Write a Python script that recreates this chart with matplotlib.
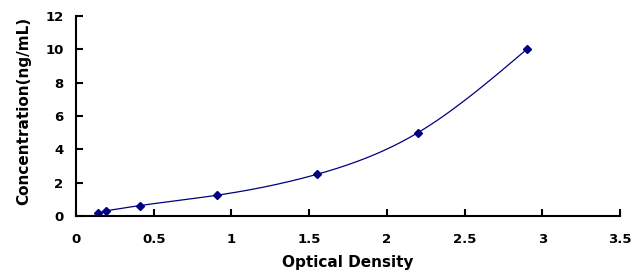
import numpy as np
import matplotlib
matplotlib.use("Agg")
import matplotlib.pyplot as plt

od = [0.14, 0.193, 0.41, 0.91, 1.55, 2.20, 2.90]
conc = [0.156, 0.312, 0.625, 1.25, 2.5, 5.0, 10.0]
xticks = [0, 0.5, 1, 1.5, 2, 2.5, 3, 3.5]
xtick_labels = ["0", "0.5", "1", "1.5", "2", "2.5", "3", "3.5"]
yticks = [0, 2, 4, 6, 8, 10, 12]

def natural_spline(x, y, xs):
    x = np.asarray(x, float); y = np.asarray(y, float)
    n = len(x)
    h = np.diff(x)
    A = np.zeros((n, n)); b = np.zeros(n)
    A[0, 0] = 1; A[-1, -1] = 1
    for i in range(1, n - 1):
        A[i, i - 1] = h[i - 1]
        A[i, i] = 2 * (h[i - 1] + h[i])
        A[i, i + 1] = h[i]
        b[i] = 3 * ((y[i + 1] - y[i]) / h[i] - (y[i] - y[i - 1]) / h[i - 1])
    c = np.linalg.solve(A, b)
    out = np.empty_like(xs)
    for k, xv in enumerate(xs):
        i = min(max(np.searchsorted(x, xv) - 1, 0), n - 2)
        bi = (y[i + 1] - y[i]) / h[i] - h[i] * (2 * c[i] + c[i + 1]) / 3
        di = (c[i + 1] - c[i]) / (3 * h[i])
        t = xv - x[i]
        out[k] = y[i] + bi * t + c[i] * t ** 2 + di * t ** 3
    return out

plt.rcParams['font.family'] = ['DejaVu Sans']
fig = plt.figure(figsize=(6.37, 2.78), dpi=100)
ax = fig.add_axes([76/637, 1-216/278, (620-76)/637, 200/278])

xs = np.linspace(od[1], od[-1], 400)
ax.plot([od[0], od[1]], [conc[0], conc[1]], color="#000080", lw=0.9)
ax.plot(xs, natural_spline(od[1:], conc[1:], xs), color="#000080", lw=0.9)
ax.plot(od, conc, linestyle="none", marker="D", markersize=4, color="#000080")

ax.set_xlim(0, 3.5)
ax.set_ylim(0, 12)
ax.set_xticks(xticks)
ax.set_xticklabels(xtick_labels)
ax.set_yticks(yticks)
for s in ["top", "right"]:
    ax.spines[s].set_visible(False)
for s in ["left", "bottom"]:
    ax.spines[s].set_linewidth(1.5)
ax.tick_params(direction="in", length=5, width=1.5, labelsize=9.5)
for lab in ax.get_xticklabels() + ax.get_yticklabels():
    lab.set_fontweight("bold")
ax.tick_params(axis="x", pad=12)
ax.tick_params(axis="y", pad=9)
ax.set_xlabel("Optical Density", fontsize=11, fontweight="bold", labelpad=7)
ax.set_ylabel("Concentration(ng/mL)", fontsize=11, fontweight="bold", labelpad=10)
ax.yaxis.label.set_y(0.525)

fig.savefig("out.png", dpi=100)
